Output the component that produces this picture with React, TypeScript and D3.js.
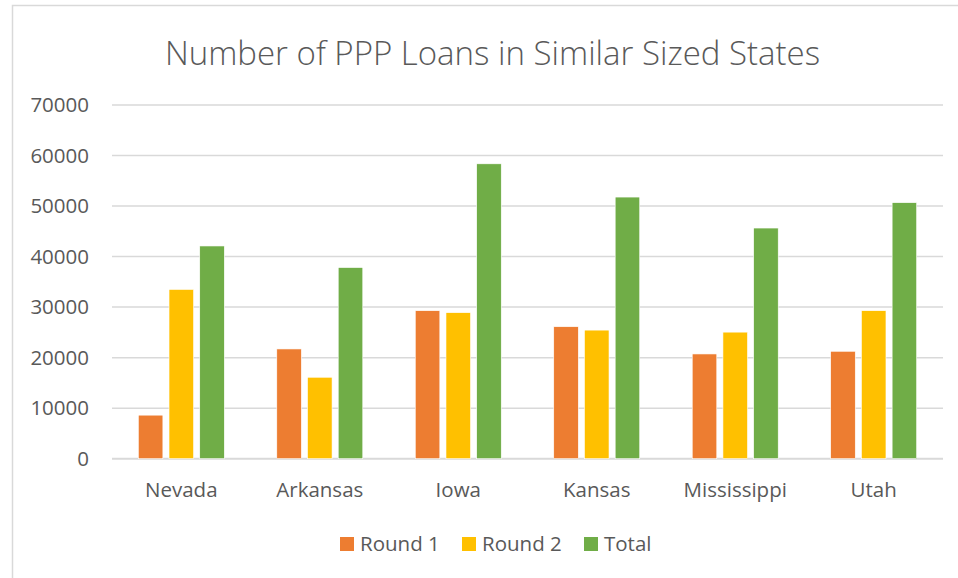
import React from "react";
import * as d3 from "d3";

const categories = ["Nevada", "Arkansas", "Iowa", "Kansas", "Mississippi", "Utah"];
const seriesNames = ["Round 1", "Round 2", "Total"];
const round1 = [8620, 21720, 29290, 26120, 20730, 21260];
const round2 = [33500, 16120, 28900, 25450, 25050, 29290];
const total = [42100, 37830, 58360, 51780, 45650, 50670];
const colors = ["#ED7D31", "#FFC000", "#70AD47"];
const yTicks = [0, 10000, 20000, 30000, 40000, 50000, 60000, 70000];
const title = "Number of PPP Loans in Similar Sized States";

const W = 958;
const H = 578;
const FONT = "'Open Sans', sans-serif";
const TXT = "#595959";

export default function App() {
  const seriesValues = [round1, round2, total];
  const x0 = d3.scaleBand<string>().domain(categories).range([112, 943]).paddingInner(0.379).paddingOuter(0.19);
  const x1 = d3.scaleBand<string>().domain(seriesNames).range([0, x0.bandwidth()]).paddingInner(0.2).paddingOuter(0);
  const y = d3.scaleLinear().domain([0, 70000]).range([458.7, 105]);

  const legendItems = [
    { name: seriesNames[0], sq: 340, tx: 360 },
    { name: seriesNames[1], sq: 462, tx: 482 },
    { name: seriesNames[2], sq: 584, tx: 604 },
  ];

  return (
    <svg width={W} height={H} style={{ position: "absolute", left: 0, top: 0, background: "#fff" }} fontFamily={FONT}>
      <rect x={0} y={0} width={W} height={H} fill="#fff" />
      <rect x={12.5} y={5.5} width={970} height={620} fill="#fff" stroke="#d9d9d9" strokeWidth={1.5} />
      <text x={492.5} y={65} textAnchor="middle" fontSize={33} fontWeight={300} fill={TXT}>{title}</text>
      {yTicks.map((t) => (
        <g key={t}>
          <line x1={112} x2={943} y1={y(t)} y2={y(t)} stroke="#d9d9d9" strokeWidth={t === 0 ? 2 : 1.5} />
          <text x={89} y={y(t) + 7.3} textAnchor="end" fontSize={20.5} fill={TXT}>{t}</text>
        </g>
      ))}
      {categories.map((c, i) => (
        <g key={c} transform={`translate(${x0(c)},0)`}>
          {seriesNames.map((s, j) => {
            const v = seriesValues[j][i];
            return (
              <rect key={s} x={x1(s)} y={y(v)} width={x1.bandwidth()} height={y(0) - y(v)} fill={colors[j]} stroke="#fff" strokeWidth={0.6} />
            );
          })}
          <text x={x0.bandwidth() / 2} y={497} textAnchor="middle" fontSize={20.5} fill={TXT}>{c}</text>
        </g>
      ))}
      {legendItems.map((l, j) => (
        <g key={l.name}>
          <rect x={l.sq} y={537} width={14} height={14} fill={colors[j]} />
          <text x={l.tx} y={551} fontSize={20.5} fill={TXT}>{l.name}</text>
        </g>
      ))}
    </svg>
  );
}
